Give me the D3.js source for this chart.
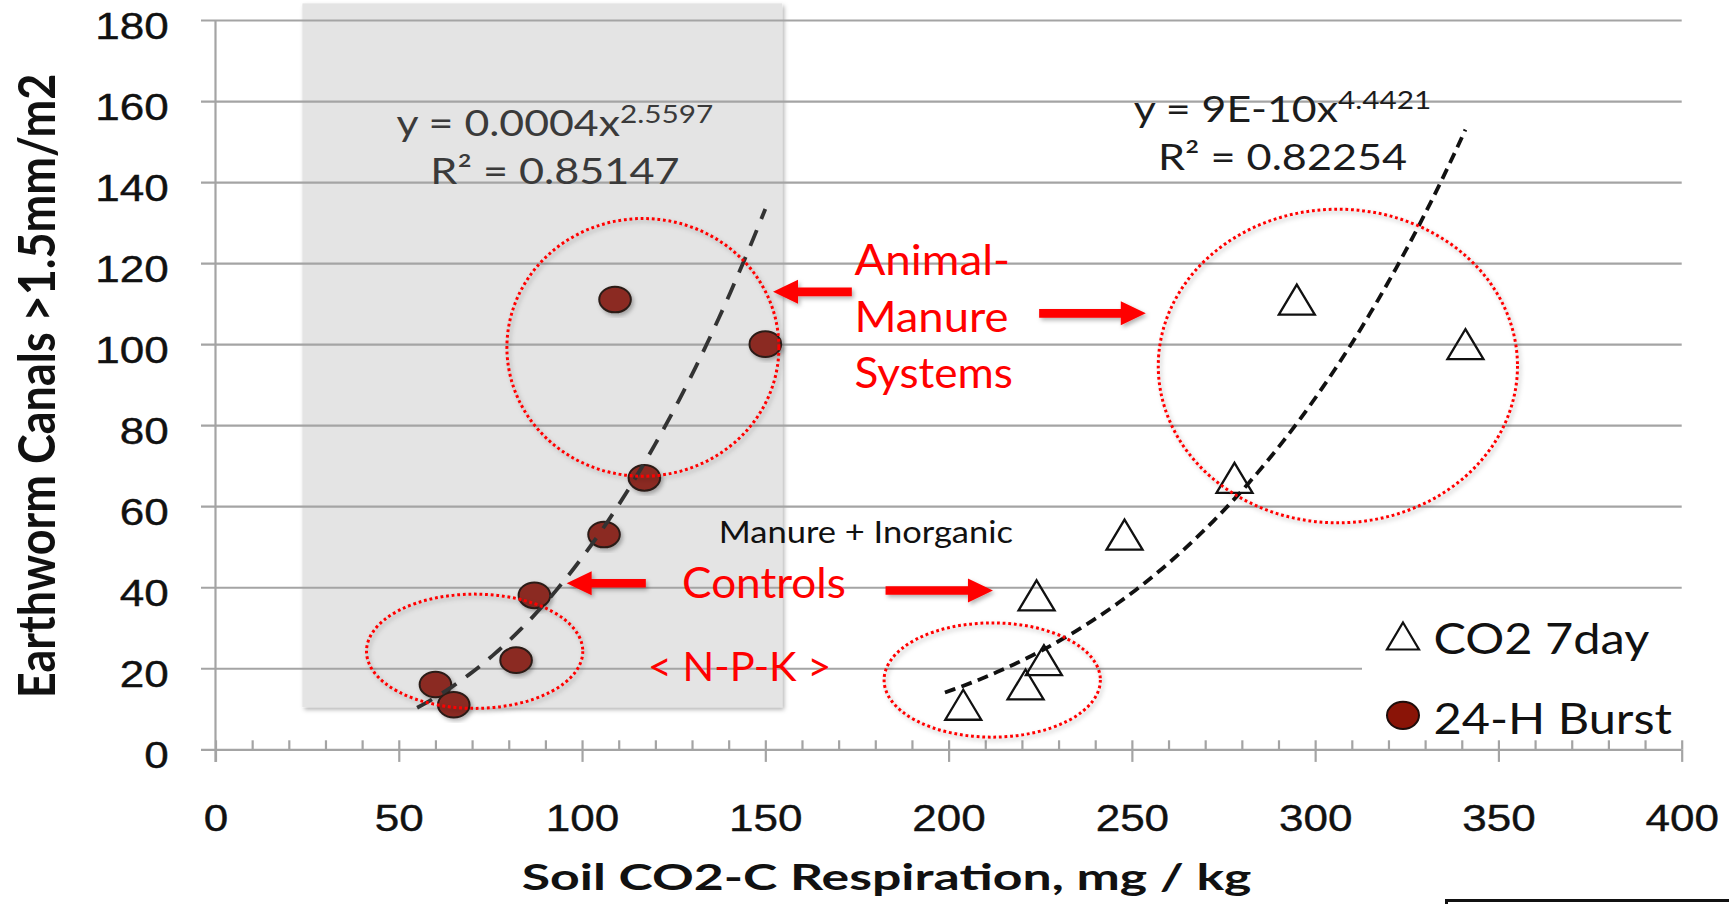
<!DOCTYPE html>
<html>
<head>
<meta charset="utf-8">
<script src="https://cdn.jsdelivr.net/npm/d3@7"></script>
<style>
body { margin: 0; background: #fff; }
svg { display: block; font-family: Lato, "Open Sans", sans-serif; }
</style>
</head>
<body>
<svg id="chart" width="1729" height="904"></svg>
<script>
// Earthworm canals (y) against two soil respiration measures (x)
var canals   = [111, 100, 67, 53, 38, 22, 16, 11];
var burst24h = [109, 150, 117, 106, 87, 82, 60, 65];
var co2Week  = [295, 341, 278, 248, 224, 226, 221, 204];
var seriesNames = ["CO2 7day", "24-H Burst"];
var xTicks = [0, 50, 100, 150, 200, 250, 300, 350, 400];
var yTicks = [0, 20, 40, 60, 80, 100, 120, 140, 160, 180];
var fitText = [
    ["y = 0.0004x", "2.5597", "R² = 0.85147"],
    ["y = 9E-10x", "4.4421", "R² = 0.82254"]
];

var svg = d3.select("#chart");
var x = d3.scaleLinear().domain([0, 400]).range([215.5, 1681.7]);
var y = d3.scaleLinear().domain([0, 180]).range([749.3, 20]);

var defs = svg.append("defs");
var shadow = defs.append("filter").attr("id", "shadow")
    .attr("x", "-20%").attr("y", "-20%").attr("width", "140%").attr("height", "140%");
shadow.append("feDropShadow").attr("dx", 2).attr("dy", 2.5)
    .attr("stdDeviation", 2).attr("flood-color", "#000").attr("flood-opacity", 0.3);

// the original picture is stretched sideways, so text gets a horizontal scale
function stretch(sel, px, py, sx) {
    return sel.attr("transform", "translate(" + px + "," + py + ") scale(" + sx + ",1)");
}

//shaded band behind the low-respiration group
svg.append("rect")
    .attr("x", x(23.7)).attr("y", y(184.1))
    .attr("width", x(154.6) - x(23.7)).attr("height", y(10.4) - y(184.1))
    .attr("fill", "#e4e4e4")
    .style("filter", "url(#shadow)");

//gridlines + y labels
var gridLeft = 201, gridRight = x(400);
var yAxis = svg.append("g")
    .attr("transform", "translate(" + gridLeft + ",0)")
    .call(d3.axisLeft(y).tickValues(yTicks).tickSize(-(gridRight - gridLeft)).tickPadding(27.2));
yAxis.select(".domain").remove();
yAxis.selectAll("line").attr("stroke", "#a4a4a4").attr("stroke-width", 2.2);
yAxis.selectAll("text")
    .attr("font-size", 37).attr("fill", "#111").attr("dy", "0.5em")
    .attr("stroke", "#111").attr("stroke-width", 0.4)
    .attr("transform", "scale(1.19,1)");

// white legend box hides part of the 20 gridline
svg.append("rect").attr("x", 1362).attr("y", 600).attr("width", 330).attr("height", 138).attr("fill", "#fff");

//vertical axis line
svg.append("line")
    .attr("x1", x(0)).attr("x2", x(0)).attr("y1", y(180)).attr("y2", y(0) + 12.6)
    .attr("stroke", "#a4a4a4").attr("stroke-width", 2.2);

//minor ticks pointing up, major ticks + labels
var minor = svg.append("g").attr("transform", "translate(0," + y(0) + ")")
    .call(d3.axisBottom(x).tickValues(d3.range(0, 401, 10)).tickSize(-9).tickFormat(""));
minor.select(".domain").remove();
minor.selectAll("line").attr("stroke", "#a4a4a4").attr("stroke-width", 2.2);

var xAxis = svg.append("g").attr("transform", "translate(0," + y(0) + ")")
    .call(d3.axisBottom(x).tickValues(xTicks).tickSize(12.6).tickPadding(43));
xAxis.select(".domain").remove();
xAxis.selectAll("line").attr("stroke", "#a4a4a4").attr("stroke-width", 2.2);
xAxis.selectAll("text")
    .attr("font-size", 37).attr("fill", "#111")
    .attr("stroke", "#111").attr("stroke-width", 0.4)
    .attr("transform", "scale(1.19,1)");

//axis titles
stretch(svg.append("text"), 886.6, 890, 1.4)
    .attr("text-anchor", "middle").attr("font-size", 37).attr("font-weight", 700).attr("fill", "#111")
    .text("Soil CO2-C Respiration, mg / kg");
svg.append("text")
    .attr("transform", "translate(54.7,386) scale(1.15,1) rotate(-90)")
    .attr("text-anchor", "middle").attr("font-size", 45).attr("font-weight", 700).attr("fill", "#111")
    .text("Earthworm Canals >1.5mm/m2");

//red dotted rings round the groups
var rings = [
    {cx: 116.6, cy: 99.2, rx: 37.1, ry: 31.8},
    {cx: 70.7, cy: 24.2, rx: 29.5, ry: 14.1},
    {cx: 211.9, cy: 17.1, rx: 29.5, ry: 14.1},
    {cx: 306.2, cy: 94.6, rx: 49.0, ry: 38.7}
];

// Excel style power trendline: fit ln y on ln x, draw from xmin-5 to xmax
function powerFit(xs, ys) {
    var lx = xs.map(Math.log), ly = ys.map(Math.log);
    var mx = d3.mean(lx), my = d3.mean(ly);
    var b = d3.sum(lx, function (v, i) { return (v - mx) * (ly[i] - my); }) /
            d3.sum(lx, function (v) { return (v - mx) * (v - mx); });
    return {a: Math.exp(my - b * mx), b: b};
}
function trendPoints(xs, ys) {
    var f = powerFit(xs, ys);
    var x0 = d3.min(xs) - 5, x1 = d3.max(xs);
    return d3.range(61).map(function (i) {
        var xv = x0 + (x1 - x0) * i / 60;
        return [xv, f.a * Math.pow(xv, f.b)];
    });
}
var line = d3.line().x(function (d) { return x(d[0]); }).y(function (d) { return y(d[1]); });

//24-H burst markers
svg.append("g").selectAll("ellipse").data(burst24h).enter().append("ellipse")
    .attr("cx", function (d) { return x(d); })
    .attr("cy", function (d, i) { return y(canals[i]); })
    .attr("rx", 15.8).attr("ry", 12.8)
    .attr("fill", "#8b2c24").attr("stroke", "#2b1b19").attr("stroke-width", 2)
    .style("filter", "url(#shadow)");

//7 day markers (open triangles)
function tri(w, h) { return "M0," + (-h / 2) + "L" + (w / 2) + "," + (h / 2) + "L" + (-w / 2) + "," + (h / 2) + "Z"; }
svg.append("g").selectAll("path").data(co2Week).enter().append("path")
    .attr("d", tri(36, 30))
    .attr("transform", function (d, i) { return "translate(" + x(d) + "," + y(canals[i]) + ")"; })
    .attr("fill", "none").attr("stroke", "#111").attr("stroke-width", 2.3);

svg.append("path").datum(trendPoints(burst24h, canals))
    .attr("d", line).attr("fill", "none")
    .attr("stroke", "#333").attr("stroke-width", 3.8).attr("stroke-dasharray", "17 12");
svg.append("path").datum(trendPoints(co2Week, canals))
    .attr("d", line).attr("fill", "none")
    .attr("stroke", "#111").attr("stroke-width", 3.8).attr("stroke-dasharray", "11 6.5");

svg.append("g").selectAll("ellipse").data(rings).enter().append("ellipse")
    .attr("cx", function (d) { return x(d.cx); })
    .attr("cy", function (d) { return y(d.cy); })
    .attr("rx", function (d) { return x(d.rx) - x(0); })
    .attr("ry", function (d) { return y(0) - y(d.ry); })
    .attr("fill", "none").attr("stroke", "#ff0000").attr("stroke-width", 3)
    .attr("stroke-dasharray", "2.8 2.8")
    .style("filter", "url(#shadow)");

//red arrows, in data units: tail x, tip x, y
var arrows = [
    [173.6, 152.1, 112.9],
    [224.7, 253.8, 107.6],
    [117.4, 95.8, 41.0],
    [182.8, 212.1, 39.2]
];
svg.append("g").selectAll("path").data(arrows).enter().append("path")
    .attr("d", function (d) {
        var t = x(d[0]), h = x(d[1]), yy = y(d[2]);
        var dir = h > t ? 1 : -1, head = 25, sw = 4.3, hw = 12;
        var b = h - dir * head;
        return "M" + t + "," + (yy - sw) + "L" + b + "," + (yy - sw) + "L" + b + "," + (yy - hw) +
            "L" + h + "," + yy + "L" + b + "," + (yy + hw) + "L" + b + "," + (yy + sw) +
            "L" + t + "," + (yy + sw) + "Z";
    })
    .attr("fill", "#ff0000")
    .style("filter", "url(#shadow)");

//annotation texts
var notes = [
    {t: "Animal-", x: 174.3, y: 117.1, size: 42, sx: 1.09, color: "#ff0000"},
    {t: "Manure", x: 174.3, y: 103.1, size: 42, sx: 1.08, color: "#ff0000"},
    {t: "Systems", x: 174.3, y: 89.1, size: 42, sx: 1.05, color: "#ff0000"},
    {t: "Controls", x: 127.3, y: 37.3, size: 42, sx: 1.05, color: "#ff0000"},
    {t: "< N-P-K >", x: 117.9, y: 16.9, size: 40, sx: 1.04, color: "#ff0000"},
    {t: "Manure + Inorganic", x: 137.3, y: 50.8, size: 30, sx: 1.15, color: "#111"}
];
notes.forEach(function (n) {
    stretch(svg.append("text"), x(n.x), y(n.y), n.sx)
        .attr("font-size", n.size).attr("fill", n.color).text(n.t);
});

//trendline equations
var eqPos = [
    {x: 92.6, y1: 151.4, y2: 139.5, color: "#3a3a3a"},
    {x: 291.1, y1: 154.9, y2: 143.0, color: "#1c1c1c"}
];
fitText.forEach(function (f, i) {
    var p = eqPos[i];
    var t1 = stretch(svg.append("text"), x(p.x), y(p.y1), 1.19)
        .attr("text-anchor", "middle").attr("font-size", 36).attr("fill", p.color);
    t1.append("tspan").text(f[0]);
    t1.append("tspan").attr("font-size", 25).attr("dy", -13).text(f[1]);
    stretch(svg.append("text"), x(p.x), y(p.y2), 1.2)
        .attr("text-anchor", "middle").attr("font-size", 36).attr("fill", p.color)
        .text(f[2]);
});

//legend
var legend = svg.append("g");
legend.append("path").attr("d", tri(32, 27))
    .attr("transform", "translate(1403,636)")
    .attr("fill", "none").attr("stroke", "#111").attr("stroke-width", 2.2);
legend.append("ellipse").attr("cx", 1403).attr("cy", 715.3).attr("rx", 16).attr("ry", 13.6)
    .attr("fill", "#8a1407").attr("stroke", "#1e0d0b").attr("stroke-width", 2);
seriesNames.forEach(function (s, i) {
    stretch(legend.append("text"), 1433.5, i === 0 ? 654 : 734, 1.16)
        .attr("font-size", 42).attr("fill", "#111").text(s);
});

//edge of a box cut off by the picture
svg.append("path").attr("d", "M1446.5,912V900.5H1729")
    .attr("fill", "none").attr("stroke", "#111").attr("stroke-width", 3);
</script>
</body>
</html>
